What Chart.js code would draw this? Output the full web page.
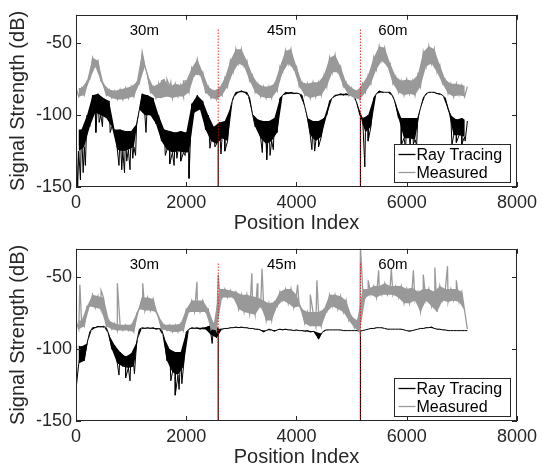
<!DOCTYPE html>
<html><head><meta charset="utf-8">
<script src="https://cdn.jsdelivr.net/npm/chart.js@4.4.0/dist/chart.umd.min.js"></script>
<style>
html,body{margin:0;padding:0;background:#fff;}
#wrap{position:relative;width:542px;height:468px;overflow:hidden;}
.box{position:absolute;left:0;width:542px;height:234px;}
</style></head><body>
<div id="wrap">
<div class="box" style="top:0"><canvas id="c1" width="542" height="234"></canvas></div>
<div class="box" style="top:234px"><canvas id="c2" width="542" height="234"></canvas></div>
</div>
<script>
// ---------- axes / labels ----------
const xTicks = [0, 2000, 4000, 6000, 8000];
const yTicks = [-150, -100, -50];
const seriesNames = ['Ray Tracing', 'Measured'];
const distanceLabels = ['30m', '45m', '60m'];
const distanceLabelIdx = [1240, 3730, 5750];
const distanceLabelLevel = -41;
const segmentBoundary = [2580, 5160];
const boundaryMarkTop = -40;

// envelope samples read at position index k*100 (A: upper edge) and k*100+50 (B: lower edge of the noise band)
const sampleStep = 100;
const halfStep = 50;

// ---------- top panel ----------
const topMeasuredA = [-81,-81,-76,-60,-62,-78,-82,-83,-82,-81,-80,-77,-56,-72,-80,-78,-75,-80,-78,-79,
  -76,-67,-61,-70,-80,-83,-81,-74,-62,-54,-54,-62,-72,-78,-80,-80,-78,-66,-55,-54,
  -66,-77,-78,-77,-77,-72,-60,-58,-66,-77,-81,-83,-78,-72,-60,-52,-53,-64,-73,-76,
  -75,-76,-72,-56,-52,-54,-65,-75,-78,-78,-79,-80];
const topMeasuredB = [-87,-86,-75,-66,-76,-86,-88,-89,-89,-88,-87,-78,-66,-84,-88,-88,-87,-88,-87,-87,
  -84,-72,-72,-84,-88,-89,-86,-80,-70,-64,-66,-76,-84,-87,-88,-88,-83,-70,-64,-68,
  -80,-86,-88,-87,-86,-80,-70,-70,-80,-86,-88,-89,-84,-78,-68,-62,-66,-78,-84,-86,
  -85,-86,-80,-66,-64,-70,-78,-85,-87,-86,-87];
const topMeasuredSpikeIdx = [1550, 1650, 1720, 1950];
const topMeasuredSpikeVal = [-76, -75, -77, -76];

const topRayA = [-110,-110,-100,-86,-85,-88,-90,-110,-110,-111,-111,-106,-85,-86,-88,-100,-110,-111,-112,-111,
  -112,-92,-86,-90,-100,-108,-105,-104,-95,-84,-83,-84,-99,-103,-104,-104,-102,-88,-84,-84,
  -84.5,-86,-102,-104,-104,-102,-90,-86,-85,-85,-85,-92,-102,-100,-88,-83,-84,-84,-92,-102,
  -102,-102,-102,-88,-84,-84,-85,-88,-100,-103,-102,-104];
const topRayB = [-125,-122,-108,-98,-100,-102,-108,-124,-125,-124,-122,-96,-100,-100,-106,-118,-124,-126,-125,-126,
  -126,-98,-96,-110,-118,-120,-116,-118,-88,-84,-84,-88,-108,-116,-120,-118,-112,-86,-85,-85,
  -85,-94,-114,-118,-115,-100,-88,-86,-86,-86,-87,-100,-112,-108,-85,-84,-84,-87,-102,-116,
  -116,-117,-95,-85,-84,-85,-86,-96,-114,-114,-115];
const topRaySpikeIdx = [30,80,130,170,360,420,480,620,780,830,880,920,980,1030,1080,1270,1620,1700,1780,1830,1900,1980,2050,
  2430,2520,2630,2700,3380,3460,3520,3580,4280,4330,4400,5240,5300,5900,5980,6060,6120,6180,6820,6900,7000,7060];
const topRaySpikeVal = [-150,-145,-140,-135,-112,-105,-108,-112,-135,-138,-140,-132,-138,-130,-128,-112,-128,-134,-135,-130,-132,-128,-144,
  -123,-122,-127,-125,-126,-131,-128,-124,-124,-125,-122,-136,-118,-121,-123,-122,-120,-121,-121,-119,-120,-118];
const topRayAtBoundary = [-106, -100];

// ---------- bottom panel ----------
const botMeasuredA = [-80,-80,-70,-62,-63,-64,-80,-82,-83,-83,-83,-75,-64,-64,-65,-77,-83,-83,-83,-82,
  -72,-66,-66,-66,-72,-82,-58,-58,-59,-60,-62,-62,-63,-64,-66,-68,-67,-60,-58,-58,
  -62,-72,-74,-74,-74,-72,-62,-62,-63,-66,-77,-80,-58,-58,-56,-56,-54,-56,-56,-56,
  -58,-57,-60,-58,-58,-60,-56,-58,-58,-58,-60,-86];
const botMeasuredB = [-86,-84,-70,-71,-72,-84,-86,-87,-87,-87,-88,-72,-73,-73,-74,-86,-87,-88,-88,-87,
  -74,-74,-74,-74,-86,-87,-64,-64,-64,-72,-74,-75,-76,-70,-80,-80,-70,-66,-68,-71,
  -70,-82,-84,-84,-84,-74,-70,-72,-74,-80,-85,-88,-64,-62,-64,-62,-62,-62,-64,-68,
  -68,-66,-74,-66,-70,-74,-66,-67,-66,-67,-73];
const botMeasuredSpikeIdx = [70,455,750,1210,2195,2580,3190,3290,3375,4020,4250,4370,5160,5300,5490,5720,6120,6300,6510,6740,6900];
const botMeasuredSpikeVal = [-55,-59,-54,-54,-53,-48,-47,-54,-44,-55,-62,-52,-28,-52,-45,-44,-45,-48,-43,-42,-52];

const botRayA = [-97,-98,-96,-85,-84,-84,-90,-97,-102,-105,-103,-95,-85,-85,-85,-85.5,-92,-100,-102,-102,
  -88,-85,-85,-85,-84,-82,-86,-85.5,-85,-84.5,-84.5,-85,-85.5,-86,-88,-86,-87.5,-86,-86,-86.5,
  -86.5,-87,-87,-87.5,-93,-87,-86.5,-86.5,-86.5,-87,-87,-87,-87,-86,-85.5,-85,-85.5,-86,-86,-86,
  -87,-87,-86,-85.5,-85,-85.5,-86,-86.5,-87,-87,-87,-87];
const botRayB = [-110,-108,-88,-85,-84.5,-85,-100,-110,-112,-113,-112,-86,-85.5,-85.5,-86,-86,-108,-116,-118,-112,
  -86,-85.5,-86,-86,-90,-92,-86,-85.5,-85,-85,-85,-85.5,-86,-86.5,-87,-86.5,-86.5,-86.5,-86.5,-87,
  -87,-87.5,-88,-88,-89,-86.5,-86.5,-86.5,-87,-87,-87,-87.5,-86.5,-85.5,-85,-85,-86,-86,-86,-86.5,
  -87.5,-86.5,-85.5,-85,-84.5,-86,-86.5,-87,-87,-87,-87];
const botRaySpikeIdx = [10,780,900,980,1060,1720,1800,1870,1920,2470];
const botRaySpikeVal = [-124,-118,-120,-122,-117,-122,-132,-128,-124,-96];
const botRayAtBoundary = [-88, -87];

// ---------- helpers ----------
function edgePoints(vals, offset) {
  return vals.map((v, k) => ({x: k * sampleStep + offset, y: v}));
}
function buildSeries(a, b, spikeX, spikeY) {
  const pts = edgePoints(a, 0).concat(edgePoints(b, halfStep));
  spikeX.forEach((x, i) => pts.push({x: x, y: spikeY[i]}));
  pts.sort((p, q) => p.x - q.x);
  return pts;
}

const FONT = '"Liberation Sans", Arial, Helvetica, sans-serif';
const AXIS_COLOR = '#262626';
const GRAY = '#999999';

function bandPair(a, b, color, order) {
  return [
    {label: 'band', data: edgePoints(a, 0), borderWidth: 0, borderColor: color, backgroundColor: color, fill: '+1', order: order},
    {label: 'band', data: edgePoints(b, halfStep), borderWidth: 0, borderColor: color, fill: false, order: order}
  ];
}

function panelDatasets(p) {
  const ds = [];
  ds.push(...bandPair(p.rayA, p.rayB, '#000', 4));
  ds.push(...bandPair(p.measA, p.measB, GRAY, 2));
  ds.push({label: seriesNames[0], data: buildSeries(p.rayA, p.rayB, p.raySX, p.raySY), borderColor: '#000', borderWidth: 1, order: 3, legend: true});
  ds.push({label: seriesNames[1], data: buildSeries(p.measA, p.measB, p.measSX, p.measSY), borderColor: GRAY, borderWidth: 1.3, order: 1, legend: true});
  segmentBoundary.forEach((b, i) => {
    ds.push({label: 'drop', data: [{x: b, y: p.rayBoundary[i]}, {x: b, y: -150}], borderColor: '#000', borderWidth: 1.1, order: 3});
    ds.push({label: 'boundary', data: [{x: b, y: -150}, {x: b, y: boundaryMarkTop}], borderColor: 'rgba(255,0,0,0.85)', borderWidth: 1, borderDash: [1.5, 1.5], order: 0});
  });
  return ds;
}

const framePlugin = {
  id: 'frame',
  afterDatasetsDraw(chart) {
    const {ctx, chartArea: a, scales: {x, y}} = chart;
    ctx.save();
    ctx.strokeStyle = AXIS_COLOR;
    ctx.lineWidth = 1;
    ctx.strokeRect(Math.round(a.left) + 0.5, Math.round(a.top) + 0.5, Math.round(a.right - a.left) - 1, Math.round(a.bottom - a.top) - 1);
    ctx.beginPath();
    xTicks.forEach(v => {
      const px = Math.round(x.getPixelForValue(v)) + 0.5;
      ctx.moveTo(px, a.bottom); ctx.lineTo(px, a.bottom - 5);
      ctx.moveTo(px, a.top); ctx.lineTo(px, a.top + 5);
    });
    yTicks.forEach(v => {
      const py = Math.round(y.getPixelForValue(v)) + 0.5;
      ctx.moveTo(a.left, py); ctx.lineTo(a.left + 5, py);
      ctx.moveTo(a.right, py); ctx.lineTo(a.right - 5, py);
    });
    ctx.stroke();
    // distance labels
    ctx.fillStyle = '#000';
    ctx.font = '15px ' + FONT;
    ctx.textAlign = 'center';
    ctx.textBaseline = 'middle';
    distanceLabels.forEach((t, i) => ctx.fillText(t, x.getPixelForValue(distanceLabelIdx[i]), y.getPixelForValue(distanceLabelLevel)));
    // legend
    const items = chart.data.datasets.filter(d => d.legend);
    const bw = 116, bh = 38;
    const bx = Math.round(a.right - 7 - bw) + 0.5, by = Math.round(a.bottom - 5 - bh) + 0.5;
    ctx.fillStyle = '#fff';
    ctx.fillRect(bx, by, bw, bh);
    ctx.strokeStyle = AXIS_COLOR;
    ctx.strokeRect(bx, by, bw, bh);
    ctx.font = '16px ' + FONT;
    ctx.textAlign = 'left';
    items.forEach((d, i) => {
      const cy = by + 10 + i * 18;
      ctx.strokeStyle = d.borderColor;
      ctx.lineWidth = 1.3;
      ctx.beginPath(); ctx.moveTo(bx + 4, cy); ctx.lineTo(bx + 21, cy); ctx.stroke();
      ctx.fillStyle = '#000';
      ctx.fillText(d.label, bx + 22, cy + 1);
    });
    ctx.restore();
  }
};

function makeChart(id, datasets) {
  return new Chart(document.getElementById(id), {
    type: 'line',
    data: {datasets},
    options: {
      responsive: false, animation: false, devicePixelRatio: 1,
      layout: {padding: {top: 5, right: 15, bottom: 0, left: 0}},
      elements: {point: {radius: 0}, line: {tension: 0}},
      plugins: {legend: {display: false}, tooltip: {enabled: false}, filler: {propagate: false}},
      scales: {
        x: {
          type: 'linear', min: 0, max: 8000,
          afterBuildTicks: s => { s.ticks = xTicks.map(v => ({value: v})); },
          afterFit: s => { s.height = 47; },
          grid: {display: false, drawTicks: false}, border: {display: false},
          ticks: {font: {size: 18, family: FONT}, color: AXIS_COLOR, padding: 5, maxRotation: 0, autoSkip: false, callback: v => String(v)},
          title: {display: true, text: 'Position Index', font: {size: 20, family: FONT, lineHeight: 1}, color: AXIS_COLOR, padding: {top: 0, bottom: 1}}
        },
        y: {
          type: 'linear', min: -150, max: -30,
          afterBuildTicks: s => { s.ticks = yTicks.map(v => ({value: v})); },
          afterFit: s => { s.width = 76; },
          grid: {display: false, drawTicks: false}, border: {display: false},
          ticks: {font: {size: 18, family: FONT}, color: AXIS_COLOR, padding: 4, autoSkip: false, callback: v => String(v)},
          title: {display: true, text: 'Signal Strength (dB)', font: {size: 20, family: FONT}, color: AXIS_COLOR, padding: {top: 6, bottom: 0}}
        }
      }
    },
    plugins: [framePlugin]
  });
}

makeChart('c1', panelDatasets({rayA: topRayA, rayB: topRayB, raySX: topRaySpikeIdx, raySY: topRaySpikeVal, rayBoundary: topRayAtBoundary,
  measA: topMeasuredA, measB: topMeasuredB, measSX: topMeasuredSpikeIdx, measSY: topMeasuredSpikeVal}));
makeChart('c2', panelDatasets({rayA: botRayA, rayB: botRayB, raySX: botRaySpikeIdx, raySY: botRaySpikeVal, rayBoundary: botRayAtBoundary,
  measA: botMeasuredA, measB: botMeasuredB, measSX: botMeasuredSpikeIdx, measSY: botMeasuredSpikeVal}));
</script>
</body></html>
